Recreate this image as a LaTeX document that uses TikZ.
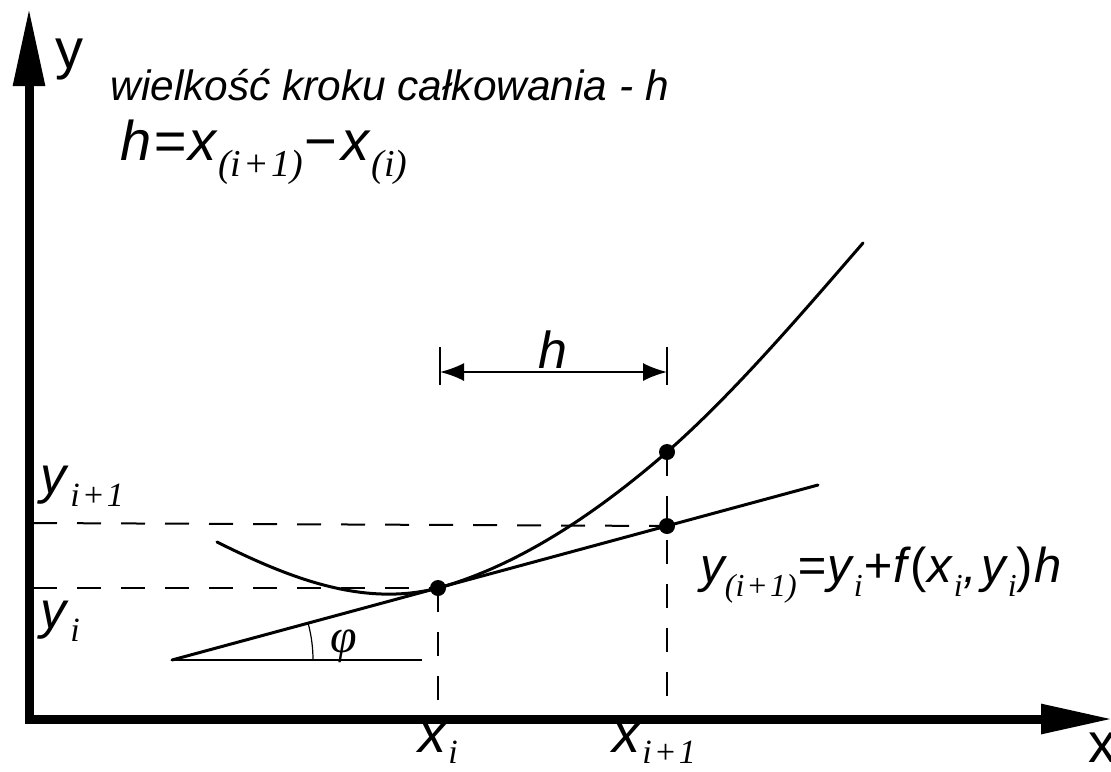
\documentclass[tikz,border=0pt]{standalone}
\usepackage{fontspec}
\setmainfont{Liberation Sans}
\newfontfamily\serfont{Liberation Serif}
\usetikzlibrary{arrows.meta}
\newcommand{\isub}[2]{\raisebox{-0.3em}{\fontsize{#1}{#1}\selectfont\serfont #2}}
\begin{document}
\begin{tikzpicture}[x=0.5pt,y=-0.5pt,
  axis/.style={line width=4.5pt,line join=miter},
  thick line/.style={line width=1.5pt,line cap=round},
  thin line/.style={line width=1pt},
  dash line/.style={line width=1pt,dash pattern=on 12pt off 10pt},
  dot/.style={circle,fill=black,inner sep=0pt,minimum size=8pt},
  lbl/.style={inner sep=0pt,anchor=base west},
  dim arrow/.style={line width=1pt,{Latex[length=12pt,width=9pt]}-{Latex[length=12pt,width=9pt]}}]
\useasboundingbox (0,0) rectangle (1111,771);
% axes
\coordinate (O) at (29,719);
\coordinate (Ytop) at (29,8);
\coordinate (Xend) at (1113,719);
\draw[axis,{Triangle[length=39pt,width=15pt]}-{Triangle[length=36pt,width=14pt]}] (Ytop) -- (O) -- (Xend);
% key points
\coordinate (T0) at (172,660);
\coordinate (T1) at (818,485);
\coordinate (C0) at (217,542);
\coordinate (C1) at (863,243);
\node[dot] (P1) at (438,588) {};
\node[dot] (P2) at (667,526) {};
\node[dot] (P3) at (667,452) {};
\coordinate (H0) at (422,660);
\coordinate (Xi) at (438,719);
\coordinate (Xi1) at (667,719);
\coordinate (Yi) at (33,588);
\coordinate (Yi1) at (33,523);
% dashed guides
\draw[dash line] (Yi1) -- (P2.center);
\draw[dash line] (Yi) -- (P1.center);
\draw[dash line] (P1.center) -- (Xi);
\draw[dash line] (P3.center) -- (Xi1);
% curve
\draw[thick line] (C0) .. controls (291,579) and (364,607) .. (P1.center)
  .. controls (514,567) and (591,518) .. (P3.center)
  .. controls (732,395) and (798,318) .. (C1);
% tangent
\draw[thick line] (T0) -- (T1);
\draw[thin line] (T0) -- (H0);
\draw[line width=0.6pt] (T0) ++(70.5pt,0pt) arc[start angle=0,end angle=15.2,radius=70.5pt];
\node[lbl] (phi) at (330,652) {\fontsize{24}{24}\selectfont\serfont\itshape φ};
% h dimension
\coordinate (B0t) at (440,347);
\coordinate (B0b) at (440,385);
\coordinate (B1t) at (667,347);
\coordinate (B1b) at (667,385);
\draw[line width=1pt] (B0t) -- (B0b);
\draw[line width=1pt] (B1t) -- (B1b);
\coordinate (A0) at (440,372);
\coordinate (A1) at (667,372);
\draw[dim arrow] (A0) -- (A1);
\node[lbl] (hlab) at (538,368) {\fontsize{26}{26}\selectfont\itshape h};
% labels
\node[lbl] (ylab) at (55,68) {\fontsize{28}{28}\selectfont y};
\node[lbl] (xlab) at (1088,762) {\fontsize{28}{28}\selectfont x};
\node[lbl] (title) at (110,100) {\fontsize{21.2}{24}\selectfont\itshape wielkość kroku całkowania - h};
\node[lbl] (hform) at (120,160) {\fontsize{28}{28}\selectfont\itshape h\kern1pt=\kern1pt x\kern1pt\isub{19}{(\textit{i}\kern1pt+\kern1pt1)}\kern1pt\textup{−}\kern2pt x\kern1pt\isub{19}{(\textit{i})}};
\node[lbl] (yi1) at (40,493) {\fontsize{26}{26}\selectfont\itshape y\kern2pt\raisebox{-0.25em}{\fontsize{17}{17}\selectfont\serfont\textit{i}\kern1pt+\kern1pt1}};
\node[lbl] (yi) at (40,628) {\fontsize{26}{26}\selectfont\itshape y\kern2pt\raisebox{-0.25em}{\fontsize{17}{17}\selectfont\serfont\textit{i}}};
\node[lbl] (xi) at (418,752) {\fontsize{28}{28}\selectfont\itshape x\kern1pt\raisebox{-0.2em}{\fontsize{17}{17}\selectfont\serfont\textit{i}}};
\node[lbl] (xi1) at (612,752) {\fontsize{28}{28}\selectfont\itshape x\kern1pt\raisebox{-0.2em}{\fontsize{17}{17}\selectfont\serfont\textit{i}\kern1pt+\kern1pt1}};
\node[lbl] (yform) at (700,582) {\fontsize{24.5}{25}\selectfont\itshape y\isub{16}{(\textit{i}\kern1pt+\kern1pt1)}\kern0.5pt=\kern0.5pt y\kern1pt\isub{16}{\textit{i}}\kern0.5pt+\kern0.5pt f\kern2pt\textup{(}x\kern1pt\isub{16}{\textit{i}}\kern0.5pt,\kern2pt y\kern1pt\isub{16}{\textit{i}}\textup{)}\kern1pt h};
\end{tikzpicture}
\end{document}
